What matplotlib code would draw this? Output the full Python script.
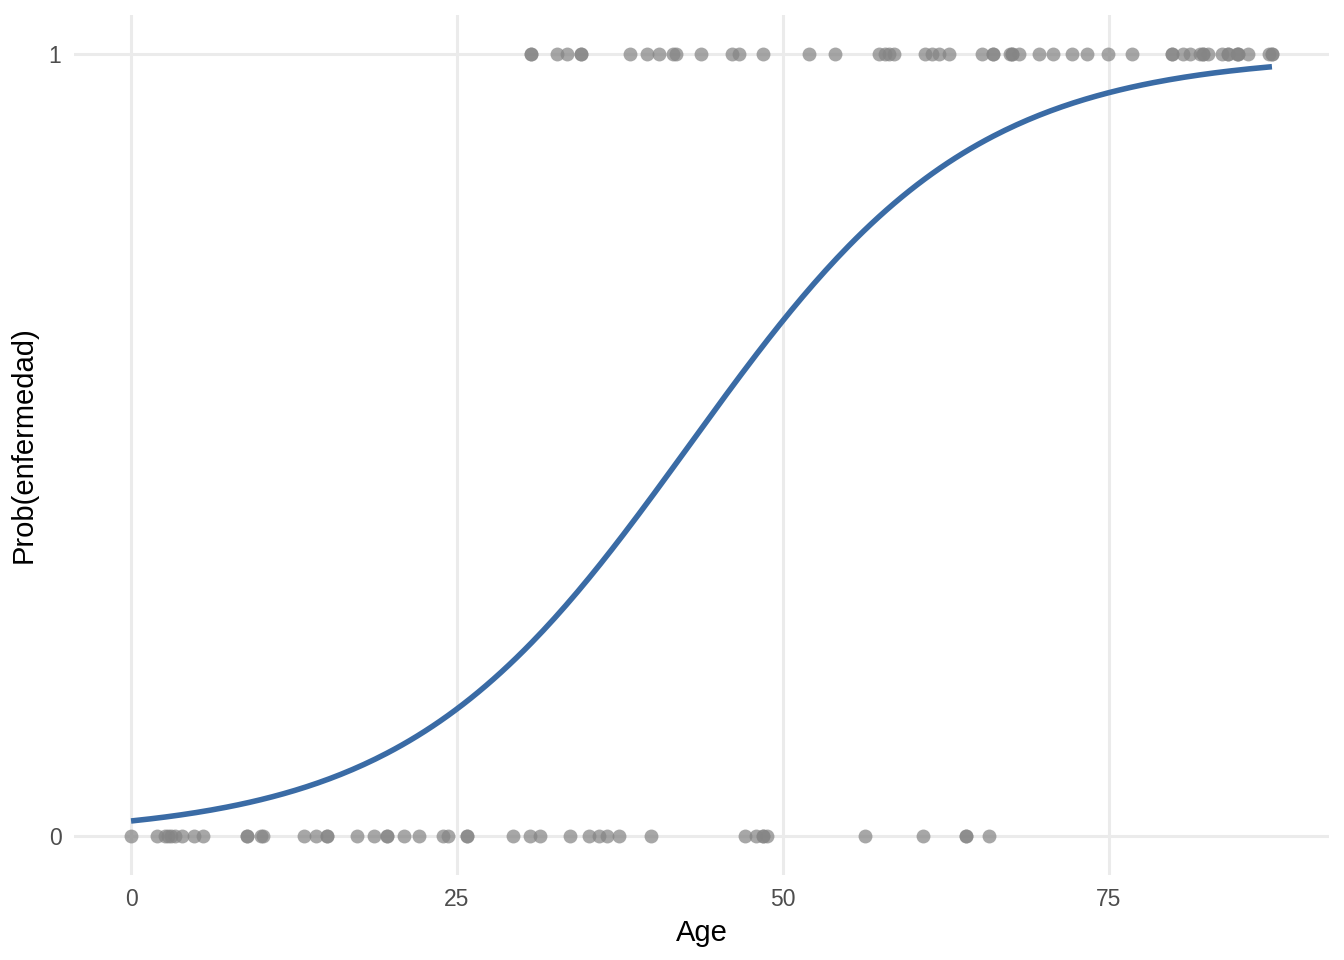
import numpy as np
import matplotlib
matplotlib.use("Agg")
import matplotlib.pyplot as plt

plt.rcParams["font.family"] = ["Liberation Sans", "DejaVu Sans"]

# edades observadas con enfermedad (1) y sin enfermedad (0)
age_sick = [30.7, 30.7, 32.7, 33.4, 34.5, 34.5, 38.3, 39.6, 40.5, 41.6, 41.8,
            43.7, 46.1, 46.6, 48.5, 52.0, 54.0, 57.4, 57.8, 58.1, 58.5, 60.9,
            61.4, 62.0, 62.7, 65.3, 66.1, 66.1, 67.4, 67.6, 67.6, 68.1, 69.6,
            70.7, 72.2, 73.3, 74.9, 76.8, 79.8, 79.8, 80.7, 81.2, 82.0, 82.2,
            82.2, 82.6, 83.7, 84.1, 84.1, 84.8, 84.9, 84.9, 85.7, 87.3, 87.5,
            87.5]
age_healthy = [0.0, 2.0, 2.6, 2.8, 3.1, 3.4, 3.9, 4.8, 5.5, 8.9, 8.9, 10.0,
               10.1, 13.3, 14.2, 15.0, 15.0, 17.3, 18.6, 19.6, 19.6, 20.9,
               22.1, 23.9, 24.3, 25.8, 25.8, 29.3, 30.6, 31.4, 33.7, 35.1,
               35.9, 36.5, 37.4, 39.9, 47.1, 47.9, 48.5, 48.5, 48.8, 56.3,
               60.7, 64.0, 64.0, 65.8]

x_ticks = [0, 25, 50, 75]
y_ticks = [0, 1]

age = np.array(age_sick + age_healthy)
y = np.array([1] * len(age_sick) + [0] * len(age_healthy), dtype=float)

# regresión logística (IRLS), como geom_smooth(method = "glm", family = binomial)
X = np.column_stack([np.ones_like(age), age])
beta = np.zeros(2)
for _ in range(50):
    p = 1 / (1 + np.exp(-X @ beta))
    w = p * (1 - p)
    beta = beta + np.linalg.solve(X.T @ (X * w[:, None]), X.T @ (y - p))

grid = np.linspace(age.min(), age.max(), 300)
prob = 1 / (1 + np.exp(-(beta[0] + beta[1] * grid)))

fig = plt.figure(figsize=(13.44, 9.6), dpi=100)
ax = fig.add_axes([74 / 1344, 85 / 960, (1329 - 74) / 1344, (875 - 15) / 960])

ax.scatter(age, y, s=100, color="#858585", alpha=0.72, linewidths=0, zorder=3)
ax.plot(grid, prob, color="#3A6BA5", lw=4.0, zorder=4, solid_capstyle="butt")

rng = age.max() - age.min()
ax.set_xlim(age.min() - 0.05 * rng, age.max() + 0.05 * rng)
ax.set_ylim(-0.05, 1.05)
ax.set_xticks(x_ticks)
ax.set_yticks(y_ticks)
ax.grid(True, color="#EBEBEB", lw=2.2, zorder=0)
ax.set_axisbelow(True)
for s in ax.spines.values():
    s.set_visible(False)
ax.tick_params(length=0, labelsize=16.5, labelcolor="#4D4D4D")
ax.tick_params(axis="x", pad=9)
ax.tick_params(axis="y", pad=9)
ax.set_xlabel("Age", fontsize=21, labelpad=6)
ax.set_ylabel("Prob(enfermedad)", fontsize=21, labelpad=8)

fig.savefig("out.png", dpi=100)
